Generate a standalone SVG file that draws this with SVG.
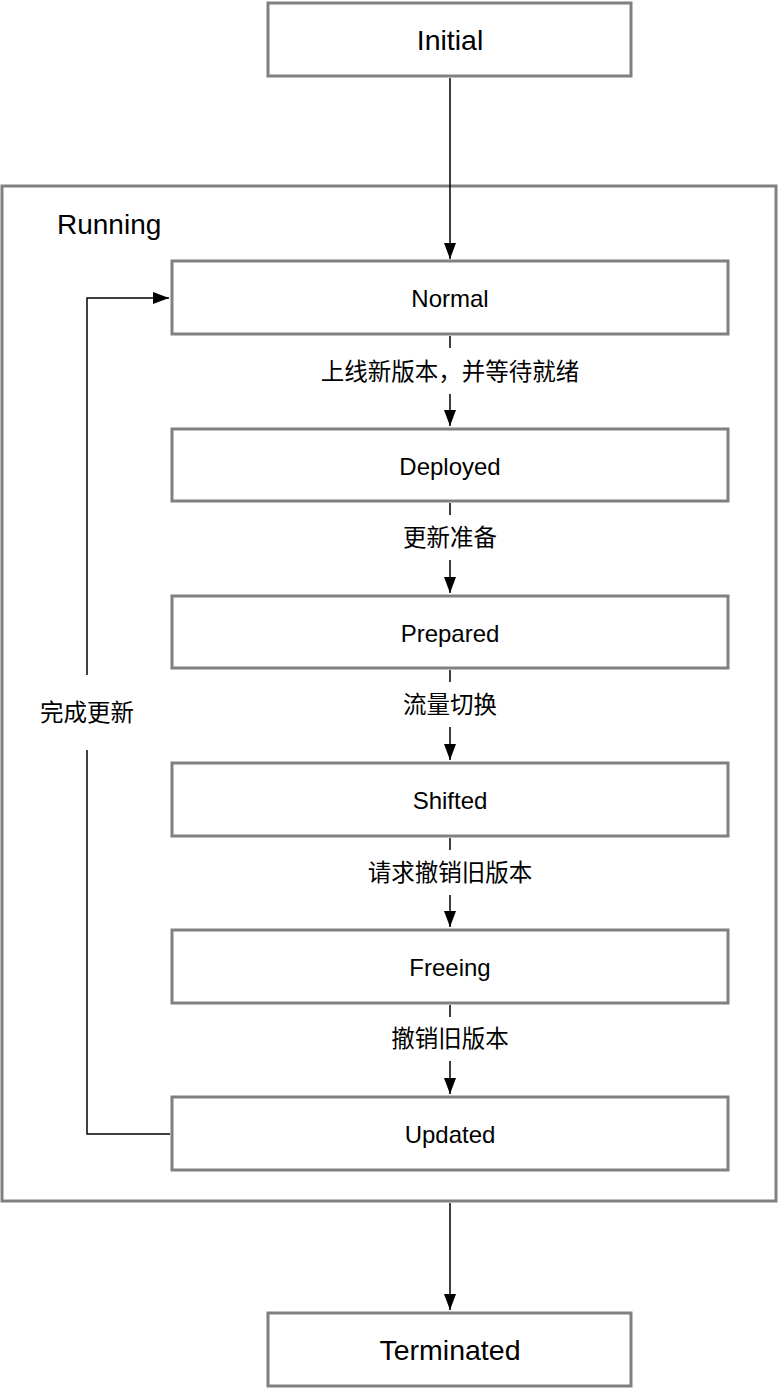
<svg xmlns="http://www.w3.org/2000/svg" width="778" height="1390" viewBox="0 0 778 1390">
<defs>
<style>
.box{fill:#fff;stroke:#808080;stroke-width:3}
.t{font-family:"Liberation Sans","Noto Sans CJK SC",sans-serif;fill:#000;text-anchor:middle;dominant-baseline:central}
.big{font-size:28.5px}
.mid{font-size:24px}
.lbl{font-family:"Liberation Sans","Noto Sans CJK SC",sans-serif;font-size:23.5px;fill:#000;text-anchor:middle;dominant-baseline:central}
.ln{fill:none;stroke:#000;stroke-width:1.5}
</style>
<marker id="ah" markerUnits="userSpaceOnUse" markerWidth="16" markerHeight="12" refX="16" refY="6" orient="auto">
<path d="M0,0 L16,6 L0,12 z" fill="#000"/>
</marker>
</defs>
<rect width="778" height="1390" fill="#fff"/>
<g id="running">
<rect class="box" x="2" y="186" width="774" height="1015"/>
<text x="57" y="224" font-family="Liberation Sans,Noto Sans CJK SC,sans-serif" font-size="28" dominant-baseline="central">Running</text>
</g>
<g id="initial"><rect class="box" x="268" y="3" width="363" height="73"/><text class="t big" x="450" y="40">Initial</text></g>
<g id="normal"><rect class="box" x="172" y="261" width="556" height="73"/><text class="t mid" x="450" y="298">Normal</text></g>
<g id="deployed"><rect class="box" x="172" y="429" width="556" height="72"/><text class="t mid" x="450" y="466">Deployed</text></g>
<g id="prepared"><rect class="box" x="172" y="596" width="556" height="72"/><text class="t mid" x="450" y="633">Prepared</text></g>
<g id="shifted"><rect class="box" x="172" y="763" width="556" height="73"/><text class="t mid" x="450" y="800">Shifted</text></g>
<g id="freeing"><rect class="box" x="172" y="930" width="556" height="73"/><text class="t mid" x="450" y="967">Freeing</text></g>
<g id="updated"><rect class="box" x="172" y="1097" width="556" height="73"/><text class="t mid" x="450" y="1134">Updated</text></g>
<g id="terminated"><rect class="box" x="268" y="1313" width="363" height="73"/><text class="t big" x="450" y="1350">Terminated</text></g>
<g id="connectors">
<line class="ln" x1="450" y1="78" x2="450" y2="259" marker-end="url(#ah)"/>
<line class="ln" x1="450" y1="336" x2="450" y2="348"/>
<text class="lbl" x="450" y="372">上线新版本，并等待就绪</text>
<line class="ln" x1="450" y1="394" x2="450" y2="426" marker-end="url(#ah)"/>
<line class="ln" x1="450" y1="503" x2="450" y2="515"/>
<text class="lbl" x="450" y="538">更新准备</text>
<line class="ln" x1="450" y1="560" x2="450" y2="593" marker-end="url(#ah)"/>
<line class="ln" x1="450" y1="670" x2="450" y2="682"/>
<text class="lbl" x="450" y="705">流量切换</text>
<line class="ln" x1="450" y1="727" x2="450" y2="760" marker-end="url(#ah)"/>
<line class="ln" x1="450" y1="838" x2="450" y2="850"/>
<text class="lbl" x="450" y="873">请求撤销旧版本</text>
<line class="ln" x1="450" y1="895" x2="450" y2="927" marker-end="url(#ah)"/>
<line class="ln" x1="450" y1="1005" x2="450" y2="1017"/>
<text class="lbl" x="450" y="1039">撤销旧版本</text>
<line class="ln" x1="450" y1="1061" x2="450" y2="1094" marker-end="url(#ah)"/>
<line class="ln" x1="450" y1="1203" x2="450" y2="1310" marker-end="url(#ah)"/>
<polyline class="ln" points="170,1134 87,1134 87,750"/>
<text class="lbl" x="87" y="713">完成更新</text>
<polyline class="ln" points="87,675 87,298 169,298" marker-end="url(#ah)"/>
</g>
</svg>
